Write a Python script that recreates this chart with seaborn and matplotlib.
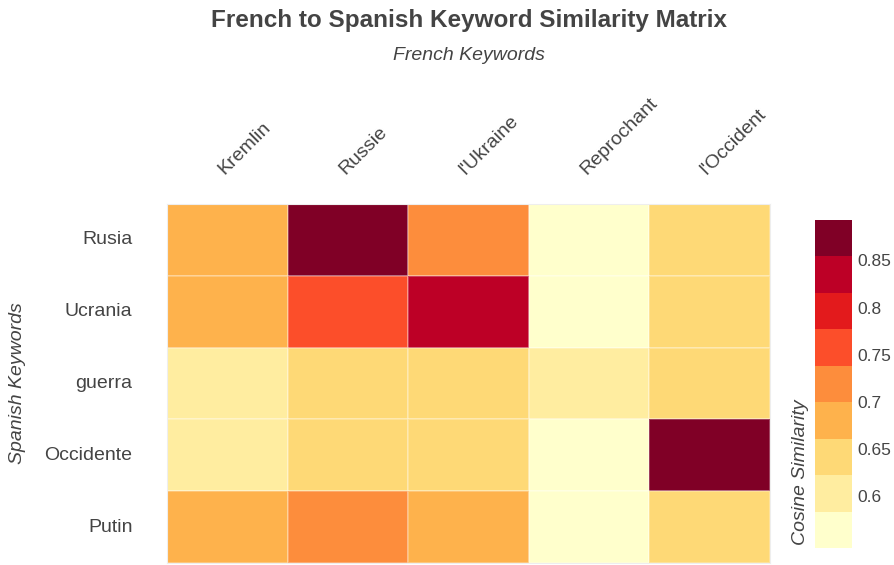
import numpy as np
import pandas as pd
import seaborn as sns
import matplotlib.pyplot as plt
from matplotlib.colors import ListedColormap

french = ['Kremlin', 'Russie', "l'Ukraine", 'Reprochant', "l'Occident"]
spanish = ['Rusia', 'Ucrania', 'guerra', 'Occidente', 'Putin']

# cosine similarity, rows = spanish, cols = french
rusia = [0.68, 0.893, 0.72, 0.55, 0.645]
ucrania = [0.68, 0.76, 0.84, 0.555, 0.65]
guerra = [0.61, 0.64, 0.64, 0.60, 0.645]
occidente = [0.61, 0.635, 0.64, 0.545, 0.89]
putin = [0.68, 0.71, 0.675, 0.56, 0.65]

df = pd.DataFrame([rusia, ucrania, guerra, occidente, putin], index=spanish, columns=french)

colors = ['#ffffcc', '#ffeda0', '#fed976', '#feb24c', '#fd8d3c',
          '#fc4e2a', '#e31a1c', '#bd0026', '#800026']
cmap = ListedColormap(colors)
txt = '#444444'

sns.set_theme(style='white')
plt.rcParams['font.family'] = ['Liberation Sans', 'DejaVu Sans']

fig = plt.figure(figsize=(8.94, 5.65), dpi=100)
ax = fig.add_axes([0.187, 0.0035, 0.674, 0.6355])
cax = fig.add_axes([0.912, 0.030, 0.041, 0.581])

sns.heatmap(df, ax=ax, cbar_ax=cax, cmap=cmap, vmin=0.545, vmax=0.893,
            linewidths=0.3, linecolor=(1, 1, 1, 0.25))

ax.xaxis.tick_top()
ax.tick_params(axis='both', length=0, labelsize=14, colors=txt)
ax.tick_params(axis='x', pad=19)
ax.tick_params(axis='y', pad=25)
for lab in ax.get_xticklabels():
    lab.set_rotation(45)
    lab.set_ha('left')
    lab.set_va('bottom')
    lab.set_rotation_mode('anchor')
for lab in ax.get_yticklabels():
    lab.set_rotation(0)
ax.set_xlabel('')
ax.set_ylabel('')
for s in ax.spines.values():
    s.set_visible(True)
    s.set_color('#eeeeee')
    s.set_linewidth(0.8)

cax.set_yticks([0.6, 0.65, 0.7, 0.75, 0.8, 0.85])
cax.set_yticklabels(['0.6', '0.65', '0.7', '0.75', '0.8', '0.85'])
cax.tick_params(axis='y', direction='in', length=7, width=1, color='white',
                labelsize=12.5, labelcolor=txt, pad=4, right=True)
for s in cax.spines.values():
    s.set_visible(False)

fig.text(0.525, 0.963, 'French to Spanish Keyword Similarity Matrix', ha='center', va='center',
         fontsize=17.5, fontweight='bold', color=txt)
fig.text(0.525, 0.902, 'French Keywords', ha='center', va='center',
         fontsize=14, style='italic', color=txt)
fig.text(0.02, 0.322, 'Spanish Keywords', ha='center', va='center', rotation=90,
         fontsize=14, style='italic', color=txt)
fig.text(0.895, 0.165, 'Cosine Similarity', ha='center', va='center', rotation=90,
         fontsize=14, style='italic', color=txt)

plt.savefig('out.png', dpi=100)
